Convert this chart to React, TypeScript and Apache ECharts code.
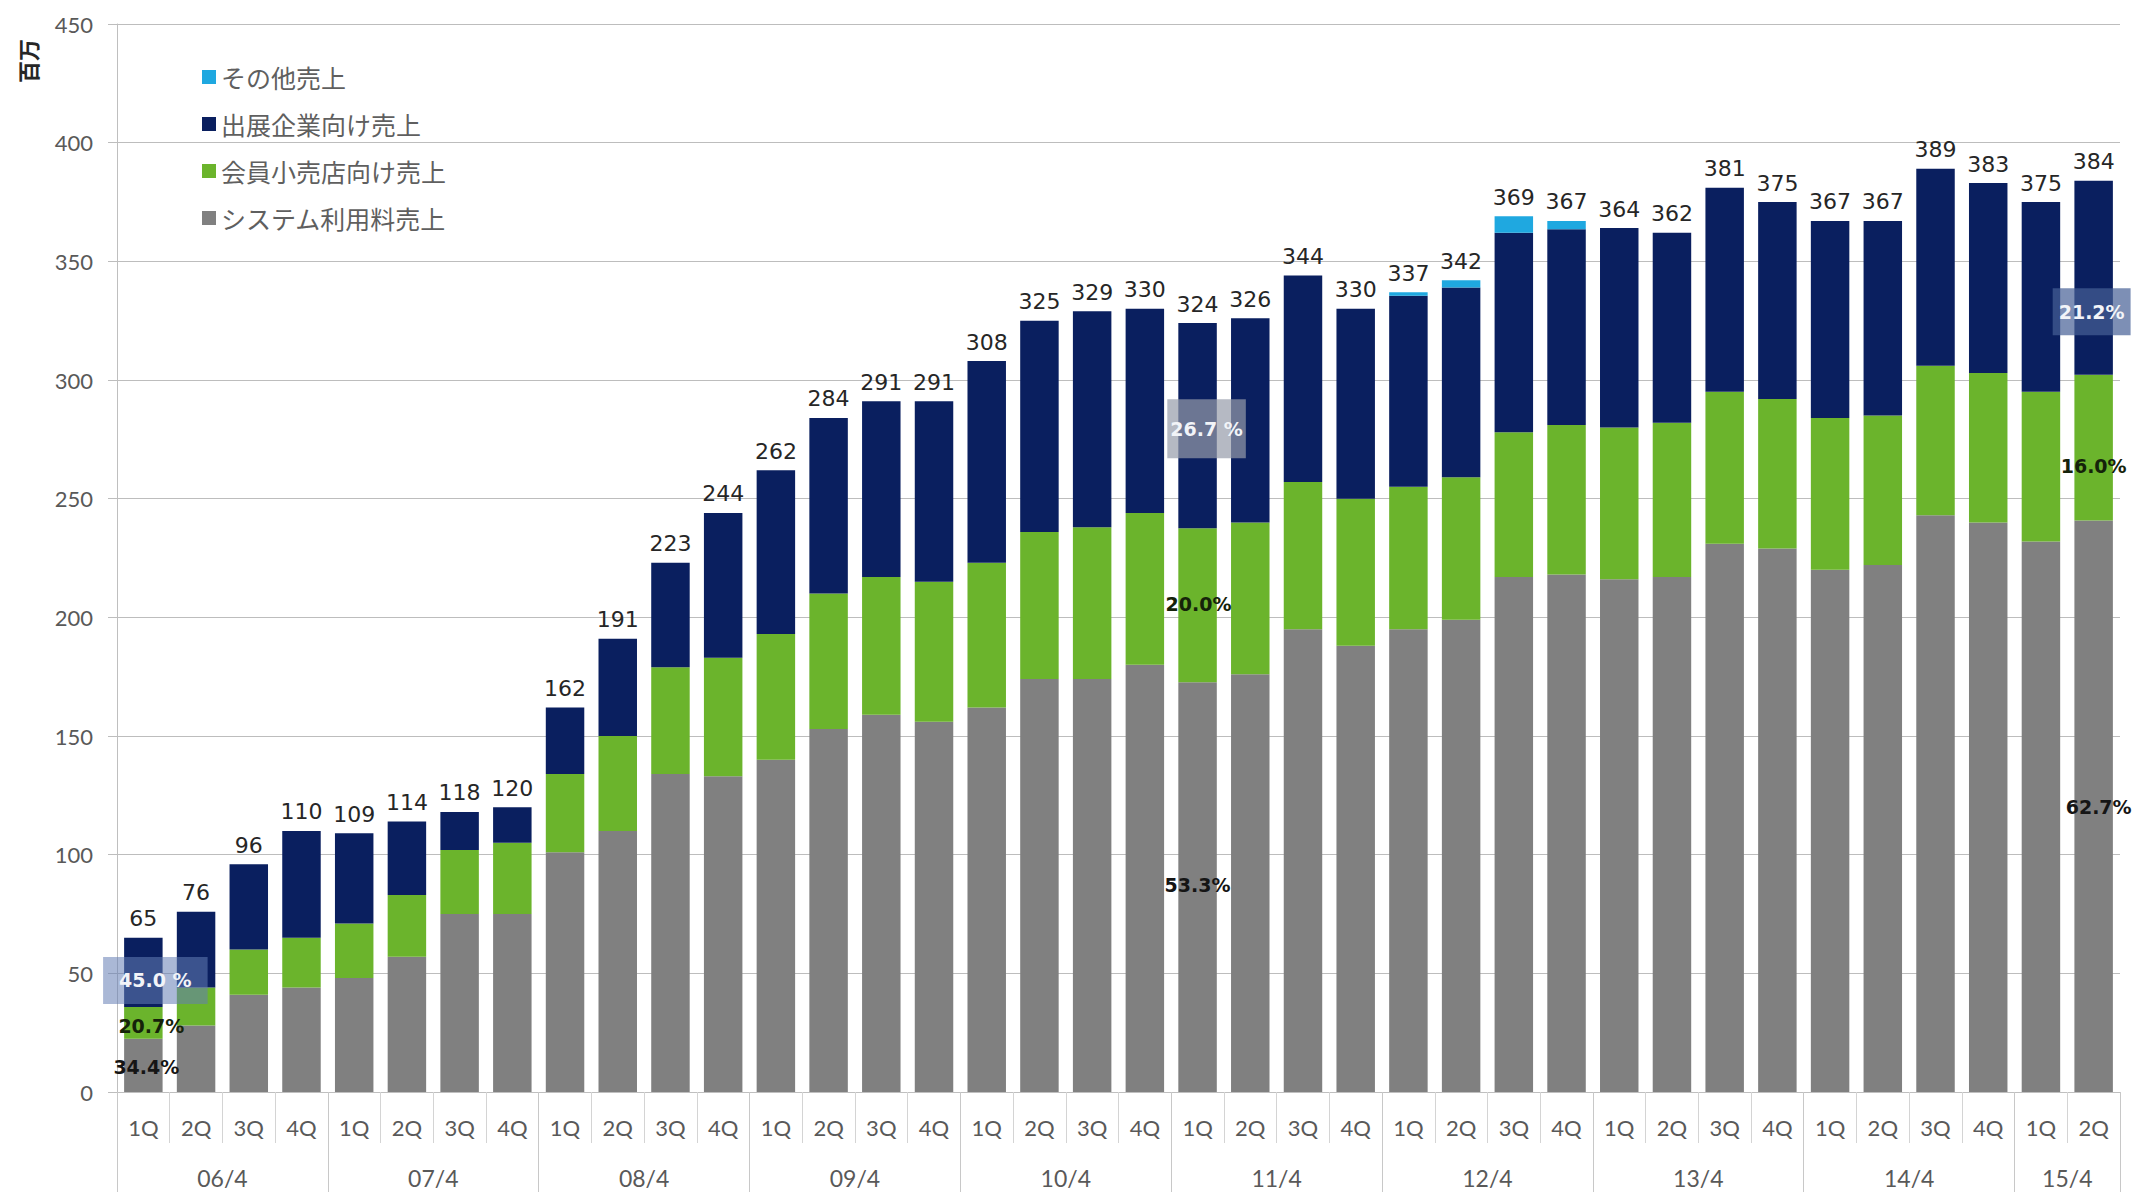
import React, { useEffect, useRef } from "react";
import * as echarts from "echarts";

const quarterLabels = [
  "1Q", "2Q", "3Q", "4Q", "1Q", "2Q", "3Q", "4Q", "1Q", "2Q", "3Q", "4Q",
  "1Q", "2Q", "3Q", "4Q", "1Q", "2Q", "3Q", "4Q", "1Q", "2Q", "3Q", "4Q",
  "1Q", "2Q", "3Q", "4Q", "1Q", "2Q", "3Q", "4Q", "1Q", "2Q", "3Q", "4Q",
  "1Q", "2Q",
];
const yearLabels = ["06/4", "07/4", "08/4", "09/4", "10/4", "11/4", "12/4", "13/4", "14/4", "15/4"];
const quartersPerYear = [4, 4, 4, 4, 4, 4, 4, 4, 4, 2];

const totals = [
  65, 76, 96, 110, 109, 114, 118, 120, 162, 191, 223, 244, 262, 284, 291, 291, 308, 325, 329, 330,
  324, 326, 344, 330, 337, 342, 369, 367, 364, 362, 381, 375, 367, 367, 389, 383, 375, 384,
];
const systemFee = [
  22.4, 28, 41, 44, 48, 57, 75, 75, 101, 110, 134, 133, 140, 153, 159, 156, 162, 174, 174, 180,
  172.7, 176, 195, 188, 195, 199, 217, 218, 216, 217, 231, 229, 220, 222, 243, 240, 232, 240.8,
];
const memberRetail = [
  13.4, 16, 19, 21, 23, 26, 27, 30, 33, 40, 45, 50, 53, 57, 58, 59, 61, 62, 64, 64,
  64.8, 64, 62, 62, 60, 60, 61, 63, 64, 65, 64, 63, 64, 63, 63, 63, 63, 61.4,
];
const exhibitor = [
  29.2, 32, 36, 45, 38, 31, 16, 15, 28, 41, 44, 61, 69, 74, 74, 76, 85, 89, 91, 86,
  86.5, 86, 87, 80, 80.5, 80, 84, 82.5, 84, 80, 86, 83, 83, 82, 83, 80, 80, 81.8,
];
const otherSales = [
  0, 0, 0, 0, 0, 0, 0, 0, 0, 0, 0, 0, 0, 0, 0, 0, 0, 0, 0, 0,
  0, 0, 0, 0, 1.5, 3, 7, 3.5, 0, 0, 0, 0, 0, 0, 0, 0, 0, 0,
];

const seriesNames = ["システム利用料売上", "会員小売店向け売上", "出展企業向け売上", "その他売上"];
const legendOrder = ["その他売上", "出展企業向け売上", "会員小売店向け売上", "システム利用料売上"];
const unitLabel = "百万";

const shareBars = [0, 20, 37];
const systemShare = ["34.4%", "53.3%", "62.7%"];
const memberShare = ["20.7%", "20.0%", "16.0%"];
const exhibitorShare = ["45.0 %", "26.7 %", "21.2%"];

const COLORS = {
  gray: "#808080",
  green: "#6BB42C",
  navy: "#0A1F5F",
  light: "#1FA8E0",
};

const pctFont = { fontFamily: "DejaVu Sans", fontWeight: "bold" as const, fontSize: 19 };

function withShares(values: number[], shares: string[], styleFor: (k: number) => any) {
  return values.map((v, i) => {
    const k = shareBars.indexOf(i);
    if (k < 0) return v;
    return {
      value: v,
      label: { show: true, position: "inside", formatter: shares[k], ...pctFont, ...styleFor(k) },
    };
  });
}

export default function App() {
  const ref = useRef<HTMLDivElement>(null);

  useEffect(() => {
    if (!ref.current) return;
    const chart = echarts.init(ref.current, undefined, { renderer: "svg" });

    const yearBounds: number[] = [0];
    const yearCenters: number[] = [];
    let acc = 0;
    quartersPerYear.forEach((n) => {
      yearCenters.push(acc + n / 2);
      acc += n;
      yearBounds.push(acc);
    });

    const grayOffsets = [[3, 2], [0, -2], [5, 1]];
    const greenOffsets = [[8, 3], [1, -1], [0, 18]];
    const navyOffsets = [[12, 8], [9, 3], [-2, 34]];
    const navyBg = ["rgba(100,125,180,0.55)", "rgba(150,155,170,0.7)", "rgba(70,95,150,0.7)"];
    const navyPad = [[14, 16], [20, 3], [14, 6]];

    const grayData = withShares(systemFee, systemShare, (k) => ({ offset: grayOffsets[k], color: "#151515" }));
    const greenData = withShares(memberRetail, memberShare, (k) => ({ offset: greenOffsets[k], color: "#15230a" }));
    const navyData = withShares(exhibitor, exhibitorShare, (k) => ({
      offset: navyOffsets[k],
      color: "#f2f4f8",
      backgroundColor: navyBg[k],
      padding: navyPad[k],
    }));

    const barBase = {
      type: "bar",
      stack: "total",
      barCategoryGap: "27%",
      xAxisIndex: 0,
      yAxisIndex: 0,
      label: { show: false },
    };

    chart.setOption({
      animation: false,
      backgroundColor: "#ffffff",
      grid: { left: 117, right: 16, top: 24, bottom: 100, containLabel: false },
      legend: {
        data: legendOrder,
        orient: "vertical",
        left: 197,
        top: 59,
        itemWidth: 14,
        itemHeight: 14,
        itemGap: 21,
        icon: "rect",
        textStyle: {
          fontFamily: "Noto Sans CJK JP",
          fontSize: 25,
          lineHeight: 26,
          color: "#5f5f5f",
        },
      },
      xAxis: [
        {
          type: "category",
          data: quarterLabels,
          position: "bottom",
          axisLine: { show: true, lineStyle: { color: "#bfbfbf", width: 1 } },
          axisTick: { show: true, interval: 0, length: 51, lineStyle: { color: "#d4d4d4" } },
          axisLabel: {
            interval: 0,
            margin: 24,
            fontFamily: "Lato",
            fontSize: 22,
            color: "#595959",
          },
          splitLine: { show: false },
        },
        {
          type: "value",
          min: 0,
          max: quarterLabels.length,
          position: "bottom",
          axisLine: { show: false },
          splitLine: { show: false },
          axisTick: {
            show: true,
            customValues: yearBounds,
            length: 100,
            lineStyle: { color: "#c8c8c8" },
          },
          axisLabel: {
            show: true,
            customValues: yearCenters,
            margin: 74,
            fontFamily: "Lato",
            fontSize: 23,
            color: "#595959",
            formatter: (v: number) => {
              const idx = yearCenters.indexOf(v);
              return idx >= 0 ? yearLabels[idx] : "";
            },
          },
        },
      ],
      yAxis: {
        type: "value",
        min: 0,
        max: 450,
        interval: 50,
        axisLine: { show: true, lineStyle: { color: "#bfbfbf" } },
        axisTick: { show: true, length: 9, lineStyle: { color: "#bdbdbd" } },
        splitLine: { show: true, lineStyle: { color: "#bdbdbd", width: 1 } },
        axisLabel: { margin: 24, fontFamily: "Lato", fontSize: 22, color: "#595959" },
      },
      graphic: [
        {
          type: "text",
          x: 27,
          y: 61,
          rotation: Math.PI / 2,
          style: {
            text: unitLabel,
            font: 'bold 22px "Noto Sans CJK JP"',
            fill: "#262626",
            align: "center",
            verticalAlign: "middle",
          },
        },
      ],
      series: [
        { ...barBase, name: seriesNames[0], data: grayData, itemStyle: { color: COLORS.gray } },
        { ...barBase, name: seriesNames[1], data: greenData, itemStyle: { color: COLORS.green } },
        { ...barBase, name: seriesNames[2], data: navyData, itemStyle: { color: COLORS.navy } },
        {
          ...barBase,
          name: seriesNames[3],
          data: otherSales,
          itemStyle: { color: COLORS.light },
          label: {
            show: true,
            position: "top",
            distance: 8,
            fontFamily: "DejaVu Sans",
            fontSize: 22,
            color: "#262626",
            formatter: (p: any) => String(totals[p.dataIndex]),
          },
        },
      ],
    });

    return () => chart.dispose();
  }, []);

  return (
    <div
      ref={ref}
      style={{ position: "absolute", left: 0, top: 0, width: 2136, height: 1192, background: "#fff" }}
    />
  );
}
